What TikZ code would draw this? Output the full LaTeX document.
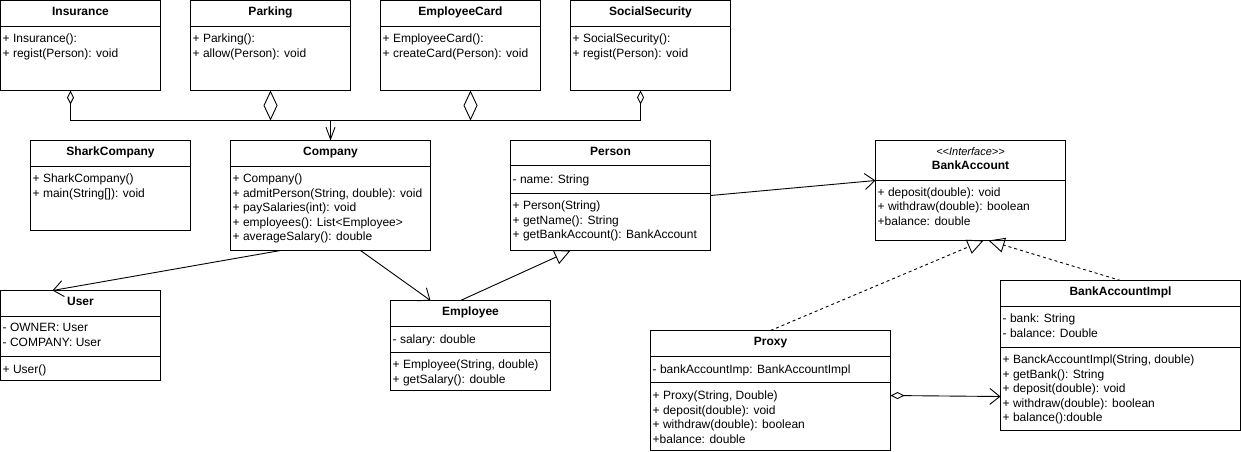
\documentclass[tikz,border=0pt]{standalone}
\usepackage{fontspec}
\setmainfont{Liberation Sans}
\usetikzlibrary{arrows.meta}

\begin{document}
\begin{tikzpicture}[
  x=1pt, y=-1pt,
  every node/.style={font=\fontsize{12}{14.5}\selectfont},
  classbox/.style={draw, line width=0.9pt, anchor=north west, inner sep=0pt, outer sep=0pt},
  classname/.style={anchor=base, inner sep=0pt, font=\fontsize{12}{14.5}\selectfont\bfseries},
  stereo/.style={anchor=base, inner sep=0pt, font=\fontsize{11}{14}\selectfont\itshape},
  member/.style={anchor=north west, align=left, inner sep=0pt,
    execute at begin node=\rule{0pt}{9.5pt}},
  divider/.style={line width=0.9pt},
]
\useasboundingbox (-0.5,-0.5) rectangle (1240.5,450.5);
%-------------------------------------------------------------
% Connector styles
\tikzset{link/.style={draw, line width=0.9pt, line join=miter}}
\tikzset{assoc/.style={link, -{Straight Barb[length=10pt, width=16pt]}}}
\tikzset{assocN/.style={link, -{Straight Barb[length=12pt, width=9pt]}}}
\tikzset{inherit/.style={link, -{Triangle[open, length=16pt, width=15pt]}}}
\tikzset{realize/.style={inherit, dash pattern=on 3pt off 3pt}}
\tikzset{aggS/.style={link, {Diamond[open, length=14pt, width=7pt]}-}}
\tikzset{aggL/.style={link, {Diamond[open, length=30pt, width=14pt]}-}}
\tikzset{aggassoc/.style={link, {Diamond[open, length=14pt, width=7pt]}-{Straight Barb[length=10pt, width=16pt]}}}

%-------------------------------------------------------------
% Top row classes
%============================================================
\node[classbox, minimum width=160, minimum height=90] (Ins) at (0,0) {};
\node[classname] at ([yshift=-14.5pt]Ins.north) {Insurance};
\draw[divider] (Ins.north west) ++(0,26) -- ++(160,0);
\node[member] at ([shift={(2,33.5)}]Ins.north west) {+ Insurance():\\+ regist(Person): void};
%============================================================
\node[classbox, minimum width=160, minimum height=90] (Park) at (190,0) {};
\node[classname] at ([yshift=-14.5pt]Park.north) {Parking};
\draw[divider] (Park.north west) ++(0,26) -- ++(160,0);
\node[member] at ([shift={(2,33.5)}]Park.north west) {+ Parking():\\+ allow(Person): void};
%============================================================
\node[classbox, minimum width=160, minimum height=90] (Card) at (380,0) {};
\node[classname] at ([yshift=-14.5pt]Card.north) {EmployeeCard};
\draw[divider] (Card.north west) ++(0,26) -- ++(160,0);
\node[member] at ([shift={(2,33.5)}]Card.north west) {+ EmployeeCard():\\+ createCard(Person): void};
%============================================================
\node[classbox, minimum width=160, minimum height=90] (Soc) at (570,0) {};
\node[classname] at ([yshift=-14.5pt]Soc.north) {SocialSecurity};
\draw[divider] (Soc.north west) ++(0,26) -- ++(160,0);
\node[member] at ([shift={(2,33.5)}]Soc.north west) {+ SocialSecurity():\\+ regist(Person): void};

%-------------------------------------------------------------
% Middle row classes
%============================================================
\node[classbox, minimum width=160, minimum height=90] (Shark) at (30,140) {};
\node[classname] at ([yshift=-14.5pt]Shark.north) {SharkCompany};
\draw[divider] (Shark.north west) ++(0,26) -- ++(160,0);
\node[member] at ([shift={(2,33.5)}]Shark.north west) {+ SharkCompany()\\+ main(String[]): void};
%============================================================
\node[classbox, minimum width=200, minimum height=110] (C) at (230,140) {};
\node[classname] at ([yshift=-14.5pt]C.north) {Company};
\draw[divider] (C.north west) ++(0,26) -- ++(200,0);
\node[member] at ([shift={(2,33.5)}]C.north west) {+ Company()\\+ admitPerson(String, double): void\\+ paySalaries(int): void\\+ employees(): List<Employee>\\+ averageSalary(): double};
%============================================================
\node[classbox, minimum width=200, minimum height=110] (P) at (510,140) {};
\node[classname] at ([yshift=-14.5pt]P.north) {Person};
\draw[divider] (P.north west) ++(0,25) -- ++(200,0);
\draw[divider] (P.north west) ++(0,53) -- ++(200,0);
\node[member] at ([shift={(2,33.5)}]P.north west) {- name: String};
\node[member] at ([shift={(2,60.5)}]P.north west) {+ Person(String)\\+ getName(): String\\+ getBankAccount(): BankAccount};
%============================================================
\node[classbox, minimum width=190, minimum height=100] (BA) at (875,140) {};
\node[stereo] at ([yshift=-14.5pt]BA.north) {<\kern0pt<Interface>\kern0pt>};
\node[classname] at ([yshift=-28.5pt]BA.north) {BankAccount};
\draw[divider] (BA.north west) ++(0,40) -- ++(190,0);
\node[member] at ([shift={(2,47)}]BA.north west) {+ deposit(double): void\\+ withdraw(double): boolean\\+balance: double};

%-------------------------------------------------------------
% Bottom row classes
%============================================================
\node[classbox, minimum width=160, minimum height=90] (U) at (0,290) {};
\node[classname] at ([yshift=-14.5pt]U.north) {User};
\draw[divider] (U.north west) ++(0,26) -- ++(160,0);
\draw[divider] (U.north west) ++(0,66) -- ++(160,0);
\node[member] at ([shift={(2,32.5)}]U.north west) {- OWNER: User\\- COMPANY: User};
\node[member] at ([shift={(2,73.5)}]U.north west) {+ User()};
%============================================================
\node[classbox, minimum width=160, minimum height=90] (E) at (390,300) {};
\node[classname] at ([yshift=-14.5pt]E.north) {Employee};
\draw[divider] (E.north west) ++(0,26) -- ++(160,0);
\draw[divider] (E.north west) ++(0,52) -- ++(160,0);
\node[member] at ([shift={(2,33.5)}]E.north west) {- salary: double};
\node[member] at ([shift={(2,59.5)}]E.north west) {+ Employee(String, double)\\+ getSalary(): double};
%============================================================
\node[classbox, minimum width=240, minimum height=120] (Px) at (650,330) {};
\node[classname] at ([yshift=-14.5pt]Px.north) {Proxy};
\draw[divider] (Px.north west) ++(0,26) -- ++(240,0);
\draw[divider] (Px.north west) ++(0,52) -- ++(240,0);
\node[member] at ([shift={(2,33.5)}]Px.north west) {- bankAccountImp: BankAccountImpl};
\node[member] at ([shift={(2,60.5)}]Px.north west) {+ Proxy(String, Double)\\+ deposit(double): void\\+ withdraw(double): boolean\\+balance: double};
%============================================================
\node[classbox, minimum width=240, minimum height=150] (BI) at (1000,280) {};
\node[classname] at ([yshift=-14.5pt]BI.north) {BankAccountImpl};
\draw[divider] (BI.north west) ++(0,26) -- ++(240,0);
\draw[divider] (BI.north west) ++(0,67) -- ++(240,0);
\node[member] at ([shift={(2,33.5)}]BI.north west) {- bank: String\\- balance: Double};
\node[member] at ([shift={(2,74.5)}]BI.north west) {+ BanckAccountImpl(String, double)\\+ getBank(): String\\+ deposit(double): void\\+ withdraw(double): boolean\\+ balance():double};

%---------------------------------------------------
% Relations
\coordinate (bus) at (330,120);
\draw[aggS] ([xshift=-10pt]Ins.south) |- (bus);
\draw[aggL] (Park.south) |- (bus);
\draw[aggL] ([xshift=10pt]Card.south) |- (bus);
\draw[aggS] ([xshift=-10pt]Soc.south) |- (bus);
\draw[assocN] (bus) -- (C.north);

\draw[assoc] ([xshift=-50pt]C.south) -- ([xshift=-28pt]U.north);
\draw[assoc] ([xshift=30pt]C.south) -- ([xshift=-40pt]E.north);
\draw[inherit] ([xshift=-10pt]E.north) -- ([xshift=-40pt]P.south);
\draw[assoc] (P.east) -- ([yshift=10pt]BA.west);

\draw[realize] (Px.north) -- ([xshift=13pt]BA.south);
\draw[realize] (BI.north) -- ([xshift=18pt]BA.south);
\draw[aggassoc] ([yshift=-5pt]Px.east) -- ([yshift=-41pt]BI.west);

\end{tikzpicture}
\end{document}
